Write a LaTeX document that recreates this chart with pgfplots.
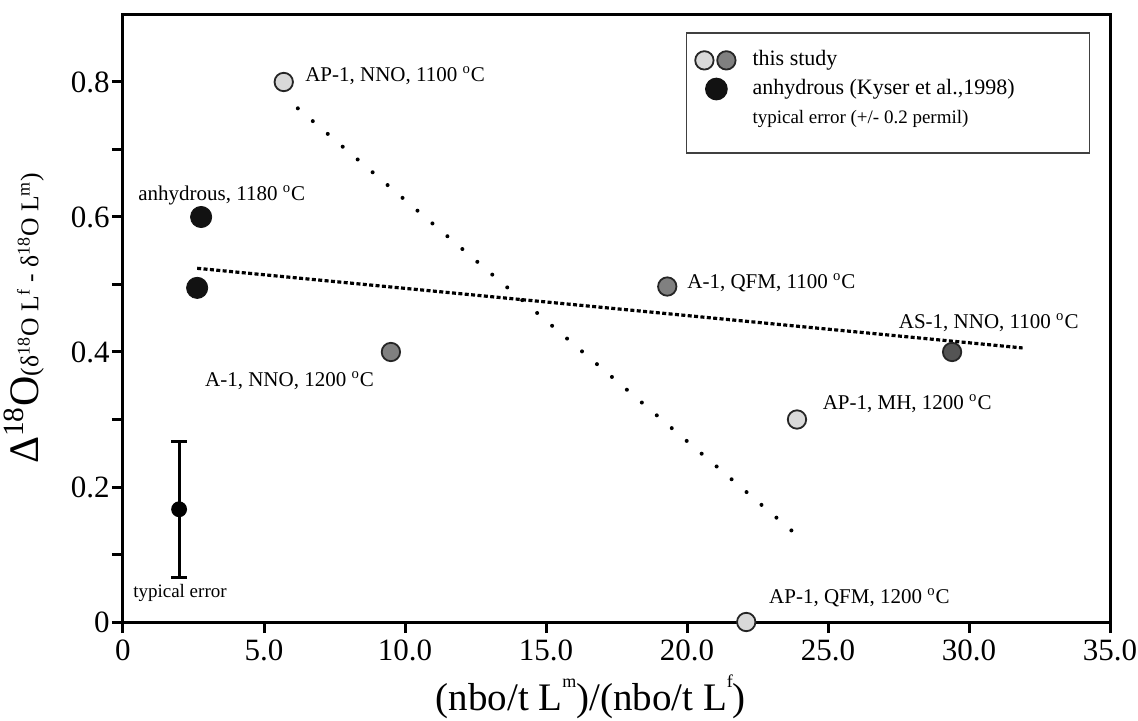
\documentclass[border=0pt]{standalone}
\usepackage{pgfplots}
\pgfplotsset{compat=1.18}
\usepackage{fontspec}
\setmainfont{Liberation Serif}

\definecolor{lightpt}{gray}{0.85}
\definecolor{midpt}{gray}{0.5}
\definecolor{darkpt}{gray}{0.33}
\definecolor{blackpt}{gray}{0.07}

\newcommand{\degC}{\textsuperscript{o}C}
\newcommand{\tinysup}[1]{\raisebox{0.58em}{\fontsize{9}{9}\selectfont #1}}

\begin{document}
\begin{tikzpicture}
\begin{axis}[
  scale only axis, width=493.5pt, height=303.75pt,
  xmin=0, xmax=35, ymin=0, ymax=0.9,
  clip=false,
  axis line style={line width=1.5pt},
  tick pos=left, tick align=outside,
  major tick length=5.5pt, minor tick length=5.5pt,
  tick style={black, line width=1.5pt},
  xtick={0,5,...,35}, xticklabels={0,5.0,10.0,15.0,20.0,25.0,30.0,35.0},
  ytick={0,0.2,0.4,0.6,0.8}, yticklabels={0,0.2,0.4,0.6,0.8},
  minor ytick={0.1,0.3,0.5,0.7},
  ticklabel style={font=\fontsize{15.5}{16}\selectfont},
  yticklabel style={inner sep=1pt},
  xlabel={(nbo/t L\tinysup{m})/(nbo/t L\tinysup{f})},
  xlabel style={font=\fontsize{19.5}{21}\selectfont, at={(ticklabel cs:0.474)}},
  ylabel={{\fontsize{21}{23}\selectfont Δ\textsuperscript{18}O}{\fontsize{12.8}{14}\selectfont (δ\textsuperscript{18}O L\textsuperscript{f} - δ\textsuperscript{18}O L\textsuperscript{m})}},
  ylabel shift=9pt,
  legend cell align=left,
  legend style={at={(rel axis cs:0.98,0.971)}, anchor=north east,
    draw=black!75, line width=0.75pt, inner xsep=4pt, inner ysep=8.5pt,
    font=\fontsize{11}{13}\selectfont,
    nodes={inner sep=0pt, text height=8pt, text depth=2.5pt},
    column sep=8pt, row sep=3.4pt},
]
% trend lines
\addplot[black, line width=2pt, line cap=round, dash pattern=on 0pt off 9.84pt, forget plot]
  coordinates {(6.2,0.761) (23.72,0.135)};
\addplot[black, line width=1.6pt, dash pattern=on 2pt off 1.2pt, forget plot]
  coordinates {(2.63,0.524) (31.9,0.406)};
% typical error
\addplot[black, line width=1.5pt, mark=*, mark size=3.2pt, forget plot,
  error bars/.cd, y dir=both, y explicit,
  error bar style={line width=1.5pt},
  error mark options={rotate=90, mark size=4pt, line width=1.5pt}]
  coordinates {(1.99,0.167) +- (0,0.101)};
% this study
\addplot[only marks, mark=*, mark size=4.6pt, forget plot,
  mark options={fill=lightpt, draw=black!85, line width=0.9pt}]
  coordinates {(5.7,0.8) (23.9,0.3) (22.1,0)};
\addplot[only marks, mark=*, mark size=4.6pt, forget plot,
  mark options={fill=midpt, draw=black!85, line width=0.9pt}]
  coordinates {(9.5,0.4) (19.3,0.497)};
\addplot[only marks, mark=*, mark size=4.6pt, forget plot,
  mark options={fill=darkpt, draw=black!85, line width=0.9pt}]
  coordinates {(29.4,0.4)};
% anhydrous
\addplot[only marks, mark=*, mark size=5.3pt, forget plot,
  mark options={fill=blackpt, draw=blackpt}]
  coordinates {(2.77,0.6) (2.63,0.495)};

\addlegendimage{legend image code/.code={
  \draw[fill=lightpt, draw=black!85, line width=0.9pt] (0pt,0pt) circle (4.6pt);
  \draw[fill=midpt, draw=black!85, line width=0.9pt] (11pt,0pt) circle (4.6pt);}}
\addlegendentry{this study}
\addlegendimage{legend image code/.code={
  \draw[fill=blackpt, draw=blackpt] (6pt,0pt) circle (5.3pt);}}
\addlegendentry{\makebox[164.5pt][l]{anhydrous (Kyser et al.,1998)}}
\addlegendimage{empty legend}
\addlegendentry[text depth=6.5pt]{\fontsize{9.5}{11}\selectfont typical error (+/- 0.2 permil)}

\begin{scope}[font=\fontsize{10.5}{12}\selectfont, every node/.style={inner xsep=0pt}]
\node[anchor=west] at (axis cs:6.45,0.81) {AP-1, NNO, 1100 \degC};
\node[anchor=west] at (axis cs:0.53,0.632) {anhydrous, 1180 \degC};
\node[anchor=west] at (axis cs:2.9,0.358) {A-1, NNO, 1200 \degC};
\node[anchor=west] at (axis cs:20.0,0.503) {A-1, QFM, 1100 \degC};
\node[anchor=west] at (axis cs:27.5,0.443) {AS-1, NNO, 1100 \degC};
\node[anchor=west] at (axis cs:24.8,0.323) {AP-1, MH, 1200 \degC};
\node[anchor=west] at (axis cs:22.9,0.036) {AP-1, QFM, 1200 \degC};
\node[anchor=west, font=\fontsize{9.5}{11}\selectfont] at (axis cs:0.35,0.043) {typical error};
\end{scope}
\end{axis}
\pgfresetboundingbox
\path ([xshift=-61.5pt,yshift=-49.5pt]current axis.south west)
  rectangle ([xshift=14pt,yshift=7.25pt]current axis.north east);
\end{tikzpicture}
\end{document}
